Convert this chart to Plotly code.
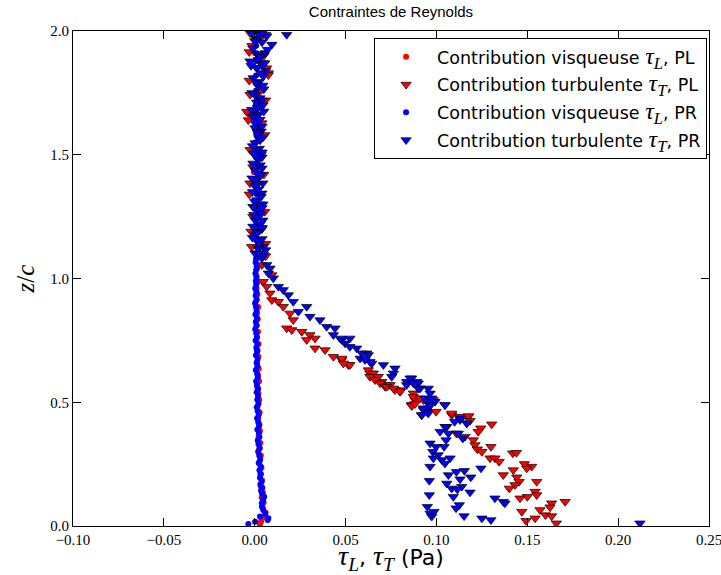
import plotly.graph_objects as go

# ---------------- data ----------------
# viscous contribution, PL (red dots)
visc_pl_z = [0.004, 0.018, 0.035, 0.055, 0.075, 0.095, 0.115, 0.135, 0.160, 0.185,
             0.210, 0.235, 0.260, 0.285, 0.310, 0.335, 0.360, 0.385, 0.410, 0.435,
             0.460, 0.485, 0.510, 0.535, 0.560, 0.585, 0.610, 0.635, 0.660, 0.685,
             0.710, 0.735, 0.760, 0.785, 0.810, 0.835, 0.860, 0.885, 0.910, 0.935,
             0.960, 0.985, 1.010, 1.040, 1.080, 1.130, 1.190, 1.250, 1.310, 1.370,
             1.430, 1.490, 1.550, 1.610, 1.670, 1.730, 1.790, 1.850, 1.910, 1.970]
visc_pl_x = [0.0029, 0.0035, 0.0052, 0.0060, 0.0044, 0.0049, 0.0038, 0.0045, 0.0034, 0.0040,
             0.0031, 0.0037, 0.0027, 0.0034, 0.0024, 0.0031, 0.0021, 0.0029, 0.0026, 0.0019,
             0.0027, 0.0016, 0.0025, 0.0021, 0.0014, 0.0024, 0.0018, 0.0022, 0.0013, 0.0020,
             0.0016, 0.0021, 0.0012, 0.0018, 0.0009, 0.0017, 0.0013, 0.0019, 0.0008, 0.0015,
             0.0011, 0.0016, 0.0009, 0.0013, 0.0007, 0.0014, 0.0004, 0.0012, 0.0006, 0.0010,
             -0.0005, 0.0011, 0.0003, 0.0012, 0.0000, 0.0010, 0.0004, 0.0013, 0.0002, 0.0009]

# turbulent contribution, PL (red triangles)
turb_pl_x = [-0.0026, 0.0011, 0.0040, 0.0047, 0.0075, 0.0075, -0.0026, 0.0029, -0.0035, -0.0044,
             0.0039, 0.0029, -0.0026, 0.0020, -0.0017, 0.0050, -0.0015, 0.0040, 0.0010, 0.0035,
             -0.0010, 0.0030, -0.0010, 0.0040, 0.0060,
             0.0060, -0.0030, 0.0065, -0.0030, 0.0060, -0.0035, 0.0055, -0.0025, 0.0050, -0.0030,
             0.0055, -0.0020, 0.0060,
             0.0039, 0.0094, 0.0047, 0.0066, 0.0084, 0.0094, 0.0130, 0.0157, 0.0194, 0.0212,
             0.0176, 0.0204, 0.0259, 0.0304, 0.0286, 0.0332, 0.0332, 0.0387, 0.0433, 0.0479,
             0.0515, 0.0634, 0.0662, 0.0699, 0.0735, 0.0800, 0.0864, 0.0974, 0.1084, 0.1176,
             0.0479, 0.0524, 0.0488, 0.0625, 0.0653, 0.0634, 0.0680, 0.0662, 0.0690, 0.0717,
             0.0745, 0.0772, 0.0800, 0.0873, 0.0864, 0.0882, 0.0928,
             0.0726, 0.0763, 0.0800, 0.0873, 0.0864, 0.0882, 0.0928, 0.0998, 0.0983, 0.0910,
             0.1084, 0.1130, 0.1176, 0.1185, 0.1167, 0.1244, 0.1230, 0.1304, 0.1110, 0.1157,
             0.1203, 0.1212, 0.1225, 0.1250, 0.1300, 0.1295, 0.1322, 0.1345, 0.1420, 0.1440,
             0.1484, 0.1524, 0.1497, 0.1368, 0.1423, 0.1442, 0.1455, 0.1432, 0.1401, 0.1552,
             0.1543, 0.1552, 0.1500, 0.1460, 0.1708, 0.1634, 0.1625, 0.1570, 0.1470, 0.1600,
             0.1634, 0.1543, 0.1493, 0.1660]
turb_pl_z = [1.992, 1.965, 1.980, 1.871, 1.830, 1.822, 1.743, 1.756, 1.669, 1.674,
             1.628, 1.560, 1.385, 1.156, 1.128, 1.900, 1.940, 1.700, 1.600, 1.500,
             1.450, 1.300, 1.250, 1.200, 1.090,
             1.985, 1.915, 1.850, 1.800, 1.720, 1.640, 1.580, 1.520, 1.420, 1.340,
             1.270, 1.190, 1.140,
             1.055, 1.014, 0.987, 0.967, 0.940, 0.913, 0.906, 0.886, 0.859, 0.832,
             0.799, 0.792, 0.785, 0.772, 0.752, 0.758, 0.718, 0.711, 0.684, 0.671,
             0.651, 0.617, 0.603, 0.583, 0.570, 0.549, 0.489, 0.502, 0.448, 0.442,
             0.677, 0.651, 0.657, 0.630, 0.617, 0.603, 0.603, 0.590, 0.577, 0.563,
             0.570, 0.549, 0.543, 0.536, 0.489, 0.509, 0.509,
             0.563, 0.556, 0.543, 0.522, 0.485, 0.493, 0.469, 0.462, 0.509, 0.516,
             0.455, 0.442, 0.444, 0.425, 0.415, 0.395, 0.381, 0.411, 0.374, 0.361,
             0.347, 0.327, 0.310, 0.300, 0.320, 0.274, 0.274, 0.260, 0.294, 0.296,
             0.251, 0.240, 0.233, 0.206, 0.226, 0.197, 0.179, 0.166, 0.152, 0.179,
             0.139, 0.125, 0.118, 0.112, 0.098, 0.092, 0.076, 0.065, 0.058, 0.044,
             0.040, 0.031, 0.021, 0.011]

# viscous contribution, PR (blue dots)
visc_pr_z = [0.008, 0.017, 0.024, 0.031, 0.038, 0.050, 0.065, 0.078, 0.092, 0.105,
             0.118, 0.130, 0.142, 0.155, 0.168, 0.180, 0.195, 0.210, 0.225, 0.240,
             0.255, 0.270, 0.285, 0.300, 0.315, 0.330, 0.345, 0.360, 0.375, 0.390,
             0.405, 0.420, 0.435, 0.450, 0.465, 0.480, 0.495, 0.510, 0.525, 0.540,
             0.555, 0.570, 0.585, 0.600, 0.615, 0.630, 0.645, 0.660, 0.675, 0.690,
             0.705, 0.720, 0.735, 0.750, 0.765, 0.780, 0.795, 0.810, 0.825, 0.840,
             0.855, 0.870, 0.885, 0.900, 0.915, 0.930, 0.945, 0.960, 0.975, 0.990,
             1.005, 1.020, 1.035, 1.050, 1.065, 1.080, 1.100, 1.130, 1.160, 1.190,
             1.220, 1.250, 1.280, 1.310, 1.340, 1.370, 1.400, 1.430, 1.460, 1.490,
             1.520, 1.550, 1.580, 1.610, 1.640, 1.670, 1.700, 1.730, 1.760, 1.790,
             1.820, 1.850, 1.880, 1.910, 1.940, 1.970, 1.995]
visc_pr_x = [-0.0035, 0.0002, 0.0071, 0.0075, 0.0029, 0.0058, 0.0047, 0.0040, 0.0039, 0.0046,
             0.0052, 0.0041, 0.0035, 0.0042, 0.0031, 0.0038, 0.0029, 0.0034, 0.0026, 0.0033,
             0.0022, 0.0030, 0.0025, 0.0019, 0.0028, 0.0021, 0.0017, 0.0026, 0.0023, 0.0015,
             0.0024, 0.0019, 0.0013, 0.0022, 0.0016, 0.0011, 0.0021, 0.0014, 0.0018, 0.0010,
             0.0019, 0.0012, 0.0008, 0.0017, 0.0013, 0.0006, 0.0015, 0.0010, 0.0016, 0.0007,
             0.0013, 0.0009, 0.0014, 0.0005, 0.0012, 0.0008, 0.0003, 0.0011, 0.0006, 0.0012,
             0.0004, 0.0010, 0.0007, 0.0002, 0.0011, 0.0005, 0.0009, 0.0003, 0.0008, 0.0006,
             0.0010, 0.0004, 0.0008, 0.0011, 0.0005, 0.0009, 0.0007, 0.0012, 0.0006, 0.0010,
             0.0008, 0.0013, 0.0005, 0.0009, 0.0011, 0.0006, 0.0010, 0.0007, 0.0012, 0.0008,
             0.0011, 0.0005, 0.0009, 0.0012, 0.0007, 0.0010, 0.0006, 0.0011, 0.0008, 0.0012,
             0.0007, 0.0010, 0.0006, 0.0011, 0.0008, 0.0012, 0.0009]

# turbulent contribution, PR (blue triangles)
turb_pr_x = [-0.0017, 0.0029, 0.0066, 0.0176, 0.0010, 0.0094, 0.0040, -0.0010, 0.0057, 0.0015,
             0.0020, -0.0026, 0.0039, 0.0011, 0.0060, 0.0047, -0.0008, 0.0025, 0.0020, 0.0050,
             0.0002, 0.0029, 0.0010, 0.0045, -0.0017, 0.0020, 0.0029, 0.0005, 0.0002, 0.0035,
             0.0020, 0.0002, 0.0030, -0.0008, 0.0025, 0.0020, 0.0040, 0.0002, 0.0030, 0.0011,
             0.0035, 0.0000, 0.0039, 0.0020, 0.0011, 0.0045, 0.0020, -0.0005, 0.0002, 0.0030,
             0.0029, 0.0005, 0.0011, 0.0047, 0.0025, 0.0002, 0.0060,
             0.0045, 0.0000, 0.0070, 0.0030, -0.0020, 0.0055, 0.0035, 0.0010, 0.0045, -0.0015,
             0.0040, 0.0015, 0.0050, -0.0010, 0.0040, 0.0015, 0.0045, -0.0012, 0.0040, 0.0010,
             -0.0010, 0.0040, 0.0015, -0.0015, 0.0045, 0.0015, -0.0012, 0.0035, 0.0000, 0.0040,
             -0.0010, 0.0035, 0.0015, 0.0045, -0.0010, 0.0040, 0.0015, -0.0012, 0.0040, 0.0020,
             0.0050,
             0.0020, 0.0039, 0.0066, 0.0084, 0.0075, 0.0102, 0.0130, 0.0157, 0.0185, 0.0212,
             0.0240, 0.0286, 0.0304, 0.0359, 0.0396, 0.0442, 0.0433, 0.0479, 0.0524, 0.0561,
             0.0616, 0.0634, 0.0708, 0.0772, 0.0864, 0.0900, 0.0955, 0.1047, 0.0947, 0.0919,
             0.1057, 0.1130, 0.1167,
             0.0470, 0.0497, 0.0524, 0.0589, 0.0625, 0.0580, 0.0607, 0.0644, 0.0763, 0.0754,
             0.0855, 0.0836, 0.0892, 0.0910, 0.0965, 0.0937, 0.0992, 0.0955,
             0.0836, 0.0873, 0.0900, 0.0974, 0.0947, 0.0965, 0.0919, 0.0955, 0.0928,
             0.1047, 0.1130, 0.1100, 0.1047, 0.1020, 0.1066, 0.1120, 0.1145, 0.1053, 0.1042,
             0.0965, 0.0998, 0.0980, 0.1010, 0.1029, 0.1075, 0.0983, 0.0965, 0.1047, 0.1245,
             0.1110, 0.1154, 0.1066, 0.1130, 0.1189, 0.0961, 0.1057, 0.1084, 0.1139, 0.1115,
             0.1185, 0.1093, 0.0961, 0.1322, 0.1368, 0.1377, 0.1126, 0.1108, 0.0950, 0.0965,
             0.0987, 0.0974, 0.1152, 0.1250, 0.1300, 0.2120]
turb_pr_z = [1.992, 1.985, 1.979, 1.985, 1.970, 1.945, 1.955, 1.930, 1.911, 1.905,
             1.884, 1.878, 1.864, 1.851, 1.840, 1.817, 1.810, 1.795, 1.777, 1.765,
             1.743, 1.729, 1.712, 1.700, 1.682, 1.662, 1.642, 1.625, 1.608, 1.595,
             1.581, 1.547, 1.560, 1.506, 1.525, 1.479, 1.490, 1.438, 1.458, 1.398,
             1.418, 1.375, 1.344, 1.360, 1.317, 1.300, 1.277, 1.258, 1.236, 1.220,
             1.196, 1.178, 1.156, 1.128, 1.140, 1.102, 1.115,
             1.995, 1.960, 1.925, 1.895, 1.860, 1.870, 1.830, 1.790, 1.780, 1.750,
             1.720, 1.690, 1.675, 1.655, 1.615, 1.590, 1.570, 1.535, 1.510, 1.495,
             1.465, 1.445, 1.425, 1.405, 1.385, 1.380, 1.350, 1.330, 1.310, 1.285,
             1.290, 1.262, 1.245, 1.235, 1.210, 1.205, 1.185, 1.165, 1.160, 1.120,
             1.095,
             1.102, 1.082, 1.055, 1.041, 1.021, 1.001, 0.967, 0.954, 0.933, 0.906,
             0.866, 0.886, 0.846, 0.832, 0.805, 0.799, 0.772, 0.752, 0.758, 0.718,
             0.698, 0.664, 0.651, 0.637, 0.597, 0.577, 0.556, 0.489, 0.462, 0.448,
             0.401, 0.428, 0.415,
             0.758, 0.738, 0.724, 0.698, 0.691, 0.677, 0.671, 0.657, 0.617, 0.603,
             0.597, 0.583, 0.583, 0.556, 0.536, 0.516, 0.502, 0.476,
             0.570, 0.577, 0.556, 0.516, 0.502, 0.489, 0.448, 0.455, 0.476,
             0.489, 0.435, 0.421, 0.401, 0.381, 0.374, 0.374, 0.354, 0.347, 0.320,
             0.334, 0.320, 0.300, 0.287, 0.267, 0.274, 0.274, 0.240, 0.253, 0.233,
             0.219, 0.223, 0.206, 0.189, 0.197, 0.183, 0.172, 0.152, 0.159, 0.148,
             0.136, 0.118, 0.125, 0.112, 0.098, 0.092, 0.085, 0.072, 0.078, 0.051,
             0.058, 0.038, 0.040, 0.031, 0.024, 0.011]

x_ticks = [-0.10, -0.05, 0.00, 0.05, 0.10, 0.15, 0.20, 0.25]
x_tick_text = ["\u22120.10", "\u22120.05", "0.00", "0.05", "0.10", "0.15", "0.20", "0.25"]
y_ticks = [0.0, 0.5, 1.0, 1.5, 2.0]
y_tick_text = ["0.0", "0.5", "1.0", "1.5", "2.0"]

# ---------------- figure ----------------
SERIF = "Liberation Serif"
SANS = "DejaVu Sans"
TITLE_SANS = "Liberation Sans"


def math(s, size):
    return f'<span style="font-family:{SERIF};font-size:{size}px"><i>{s}</i></span>'


leg_tauL = math("τ<sub>L</sub>", 24)
leg_tauT = math("τ<sub>T</sub>", 24)
ax_tauL = math("τ<sub>L</sub>", 28)
ax_tauT = math("τ<sub>T</sub>", 28)

fig = go.Figure()
fig.add_trace(go.Scatter(
    x=visc_pl_x, y=visc_pl_z, mode="markers", legendgroup="a",
    name=f"Contribution visqueuse {leg_tauL}, PL",
    marker=dict(symbol="circle", size=6, color="#ff0000", line=dict(width=0))))
fig.add_trace(go.Scatter(
    x=turb_pl_x, y=turb_pl_z, mode="markers", legendgroup="b",
    name=f"Contribution turbulente {leg_tauT}, PL",
    marker=dict(symbol="triangle-down", size=9, color="#ff0000",
                line=dict(width=0.7, color="#000000"))))
fig.add_trace(go.Scatter(
    x=visc_pr_x, y=visc_pr_z, mode="markers", legendgroup="c",
    name=f"Contribution visqueuse {leg_tauL}, PR",
    marker=dict(symbol="circle", size=6, color="#0000ff", line=dict(width=0))))
fig.add_trace(go.Scatter(
    x=turb_pr_x, y=turb_pr_z, mode="markers", legendgroup="d",
    name=f"Contribution turbulente {leg_tauT}, PR",
    marker=dict(symbol="triangle-down", size=9, color="#0000ff",
                line=dict(width=0.7, color="#000000"))))

axis_common = dict(
    showgrid=False, zeroline=False, showline=True, linecolor="black", linewidth=1,
    mirror="ticks", ticks="inside", ticklen=8, tickwidth=1, tickcolor="black",
    tickfont=dict(family=SERIF, size=15, color="black"),
    ticklabeloverflow="allow",
)

fig.update_layout(
    width=721, height=575,
    margin=dict(l=73, r=12, t=31, b=49),
    paper_bgcolor="white", plot_bgcolor="white",
    font=dict(family=SANS, color="black"),
    title=dict(text="Contraintes de Reynolds", x=0.5, xref="paper",
               y=1 - 12 / 575, yref="container", yanchor="middle",
               font=dict(family=TITLE_SANS, size=15, color="black")),
    xaxis=dict(range=[-0.10, 0.25], tickvals=x_ticks, ticktext=x_tick_text,
               title=dict(text=f"{ax_tauL}, {ax_tauT} (Pa)", standoff=7,
                          font=dict(family=SANS, size=22)),
               automargin=False, **axis_common),
    yaxis=dict(range=[0, 2.0], tickvals=y_ticks, ticktext=y_tick_text,
               title=dict(text='<i>z</i>/<i>c</i>', standoff=8,
                          font=dict(family=SERIF, size=25)),
               automargin=False, **axis_common),
    showlegend=True,
    legend=dict(x=0.997, y=0.986, xanchor="right", yanchor="top",
                bgcolor="white", bordercolor="black", borderwidth=1,
                font=dict(family=SANS, size=17.5, color="black"),
                tracegroupgap=2, itemwidth=52),
)

fig.write_html("out.html", config={"displayModeBar": False},
               post_script="document.body.style.margin='0';")
